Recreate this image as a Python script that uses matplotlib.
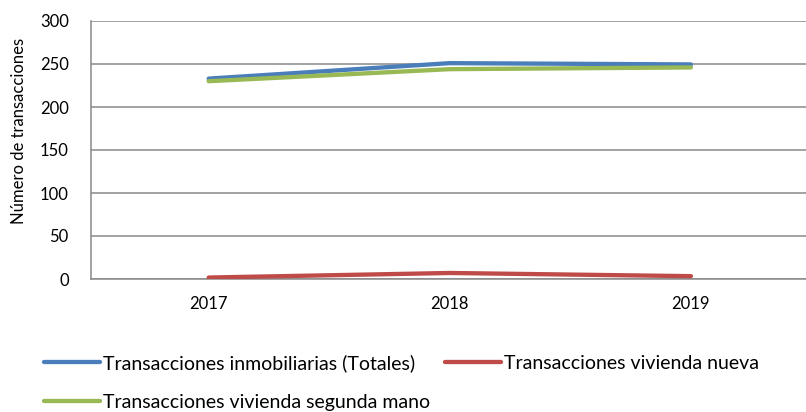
import matplotlib
matplotlib.use("Agg")
import matplotlib.pyplot as plt

plt.rcParams['font.family'] = ['Lato', 'DejaVu Sans']

years = [2017, 2018, 2019]
totales = [233, 251, 249.5]
segunda_mano = [230, 244, 246]
nueva = [1.7, 7, 3.3]

c_tot = '#4A7EBB'
c_nue = '#BE4B48'
c_seg = '#98B954'
grid_c = '#898989'

fig = plt.figure(figsize=(8.06, 4.12), dpi=100)
ax = fig.add_axes([91/806, 133/412, 715/806, 258/412])

l_tot, = ax.plot(years, totales, color=c_tot, lw=3.1, solid_capstyle='round', zorder=3)
l_nue, = ax.plot(years, nueva, color=c_nue, lw=3.1, solid_capstyle='round', zorder=3)
l_seg, = ax.plot(years, segunda_mano, color=c_seg, lw=3.1, solid_capstyle='round', zorder=4)

ax.set_ylim(0, 300)
ax.set_yticks(range(0, 301, 50))
ax.set_xlim(2017 - 117.6/241, 2019 + 115/241)
ax.set_xticks(years)
ax.set_xticklabels([str(y) for y in years])
ax.yaxis.grid(True, color=grid_c, lw=1.1)
ax.set_axisbelow(True)
for s in ['top', 'right']:
    ax.spines[s].set_visible(False)
for s in ['left', 'bottom']:
    ax.spines[s].set_color(grid_c)
    ax.spines[s].set_linewidth(1.1)
ax.tick_params(axis='both', length=0, labelsize=12)
ax.tick_params(axis='y', pad=16)
ax.tick_params(axis='x', pad=12)

fig.text(19/806, 1 - 131/412, 'Número de transacciones', rotation=90,
         ha='center', va='center', fontsize=12)

fig.legend([l_tot, l_seg, l_nue],
           ['Transacciones inmobiliarias (Totales)',
            'Transacciones vivienda segunda mano',
            'Transacciones vivienda nueva'],
           ncol=2, loc='upper left', bbox_to_anchor=(44/806, 1 - 354/412),
           frameon=False, fontsize=14, handlelength=2.9, handletextpad=0.15,
           columnspacing=0.75, labelspacing=1.15, borderpad=0, borderaxespad=0)

fig.savefig('out.png', dpi=100)
